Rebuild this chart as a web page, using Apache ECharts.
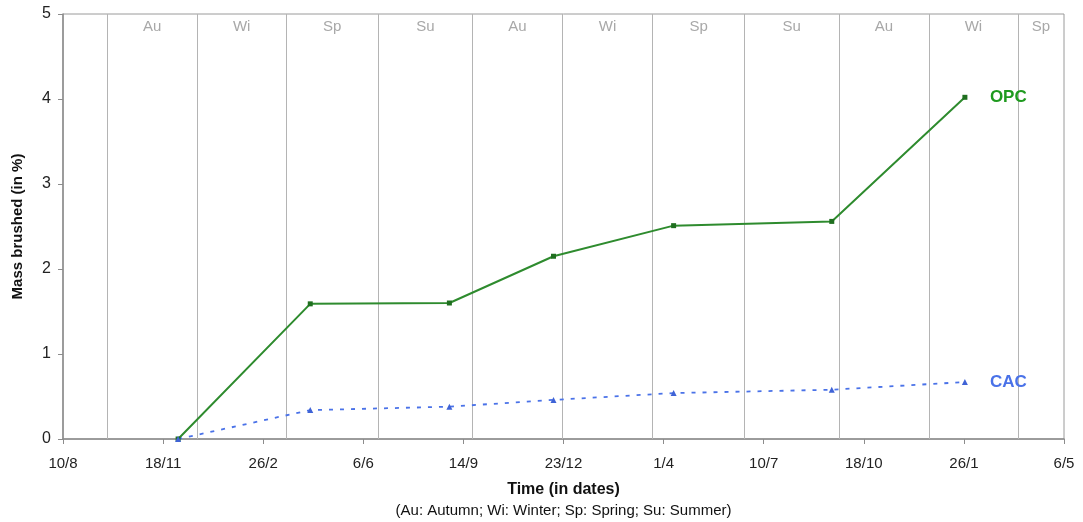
<!DOCTYPE html>
<html>
<head>
<meta charset="utf-8">
<script src="https://cdn.jsdelivr.net/npm/echarts@6/dist/echarts.min.js"></script>
<style>
    html, body { margin: 0; padding: 0; background: #fff; }
    #chart { width: 1083px; height: 522px; }
</style>
</head>
<body>
<div id="chart"></div>
<script>
// axis starts 10/8/2006, ticks every 100 days
const startDate = '2006-08-10';
const tickLabels = ['10/8', '18/11', '26/2', '6/6', '14/9', '23/12', '1/4', '10/7', '18/10', '26/1', '6/5'];

// measurement dates
const sampleDates = ['2006-12-03', '2007-04-14', '2007-08-31', '2007-12-13', '2008-04-11', '2008-09-16', '2009-01-27'];
const opcValues = [0, 1.59, 1.60, 2.15, 2.51, 2.56, 4.02];
const cacValues = [0, 0.34, 0.38, 0.46, 0.54, 0.58, 0.67];

// season boundaries and names of the season that starts there
const seasonStarts = ['2006-09-23', '2006-12-22', '2007-03-21', '2007-06-21', '2007-09-23', '2007-12-22',
                      '2008-03-21', '2008-06-21', '2008-09-23', '2008-12-22', '2009-03-21'];
const seasonNames = ['Au', 'Wi', 'Sp', 'Su', 'Au', 'Wi', 'Sp', 'Su', 'Au', 'Wi', 'Sp'];

const DAY = 86400000;
function dayOf(s) {
    let p = s.split('-').map(Number),
        o = startDate.split('-').map(Number);
    return Math.round((Date.UTC(p[0], p[1] - 1, p[2]) - Date.UTC(o[0], o[1] - 1, o[2])) / DAY);
}

const xMax = (tickLabels.length - 1) * 100;
const font = '"Liberation Sans", Arial, sans-serif';

let opcData = sampleDates.map((d, i) => [dayOf(d), opcValues[i]]),
    cacData = sampleDates.map((d, i) => [dayOf(d), cacValues[i]]),
    seasonLines = seasonStarts.map(d => ({ xAxis: dayOf(d) })),
    seasonBands = seasonStarts.map((d, i) => [
        { xAxis: dayOf(d), name: seasonNames[i] },
        { xAxis: i + 1 < seasonStarts.length ? dayOf(seasonStarts[i + 1]) : xMax }
    ]);

let chart = echarts.init(document.getElementById('chart'));

chart.setOption({
    animation: false,
    textStyle: { fontFamily: font },
    grid: {
        left: 63, right: 19, top: 14, bottom: 83,
        outerBoundsMode: 'none',
        containLabel: false,
        show: true, borderColor: '#9a9a9a', borderWidth: 1,
        backgroundColor: 'transparent'
    },
    xAxis: {
        type: 'value',
        min: 0, max: xMax, interval: 100,
        axisLine: { lineStyle: { color: '#8c8c8c', width: 1.5 } },
        axisTick: { show: true, length: 5, lineStyle: { color: '#8c8c8c' } },
        splitLine: { show: false },
        axisLabel: {
            color: '#222', fontSize: 15, margin: 17, fontFamily: font,
            formatter: v => tickLabels[Math.round(v / 100)]
        },
        name: 'Time (in dates)\n{s|(Au: Autumn; Wi: Winter; Sp: Spring; Su: Summer)}',
        nameLocation: 'middle',
        nameGap: 40,
        nameTextStyle: {
            color: '#111', fontSize: 16, fontWeight: 'bold', lineHeight: 21, fontFamily: font,
            rich: { s: { fontSize: 15, fontWeight: 'normal', color: '#111', lineHeight: 21, fontFamily: font } }
        }
    },
    yAxis: {
        type: 'value',
        min: 0, max: 5, interval: 1,
        axisLine: { show: true, lineStyle: { color: '#8c8c8c', width: 1.5 } },
        axisTick: { show: true, length: 5, lineStyle: { color: '#8c8c8c' } },
        splitLine: { show: false },
        axisLabel: { color: '#222', fontSize: 16, margin: 12, fontFamily: font },
        name: 'Mass brushed (in %)',
        nameLocation: 'middle',
        nameGap: 38,
        nameTextStyle: {
            color: '#111', fontSize: 15, fontWeight: 'bold',
            fontFamily: '"Liberation Sans Narrow", "Arial Narrow", ' + font
        }
    },
    series: [
        {
            name: 'seasons',
            type: 'line',
            data: [],
            silent: true,
            markLine: {
                silent: true,
                symbol: 'none',
                label: { show: false },
                lineStyle: { color: '#b4b4b4', type: 'solid', width: 1 },
                data: seasonLines
            },
            markArea: {
                silent: true,
                itemStyle: { color: 'transparent' },
                label: {
                    show: true, position: 'insideTop', distance: 5,
                    color: '#a8a8a8', fontSize: 15, fontFamily: font
                },
                data: seasonBands
            }
        },
        {
            name: 'OPC',
            type: 'line',
            data: opcData,
            symbol: 'rect',
            symbolSize: 5,
            lineStyle: { color: '#2e8b2e', width: 2 },
            itemStyle: { color: '#1f6f1f' },
            endLabel: {
                show: true, formatter: 'OPC', distance: 25,
                color: '#1f9a1f', fontSize: 17, fontWeight: 'bold', fontFamily: font
            },
            z: 5
        },
        {
            name: 'CAC',
            type: 'line',
            data: cacData,
            symbol: 'triangle',
            symbolSize: 6,
            lineStyle: { color: '#4a72e8', width: 1.8, type: [4, 7] },
            itemStyle: { color: '#3f63d6' },
            endLabel: {
                show: true, formatter: 'CAC', distance: 25,
                color: '#4a72e8', fontSize: 17, fontWeight: 'bold', fontFamily: font
            },
            z: 5
        }
    ]
});
</script>
</body>
</html>
